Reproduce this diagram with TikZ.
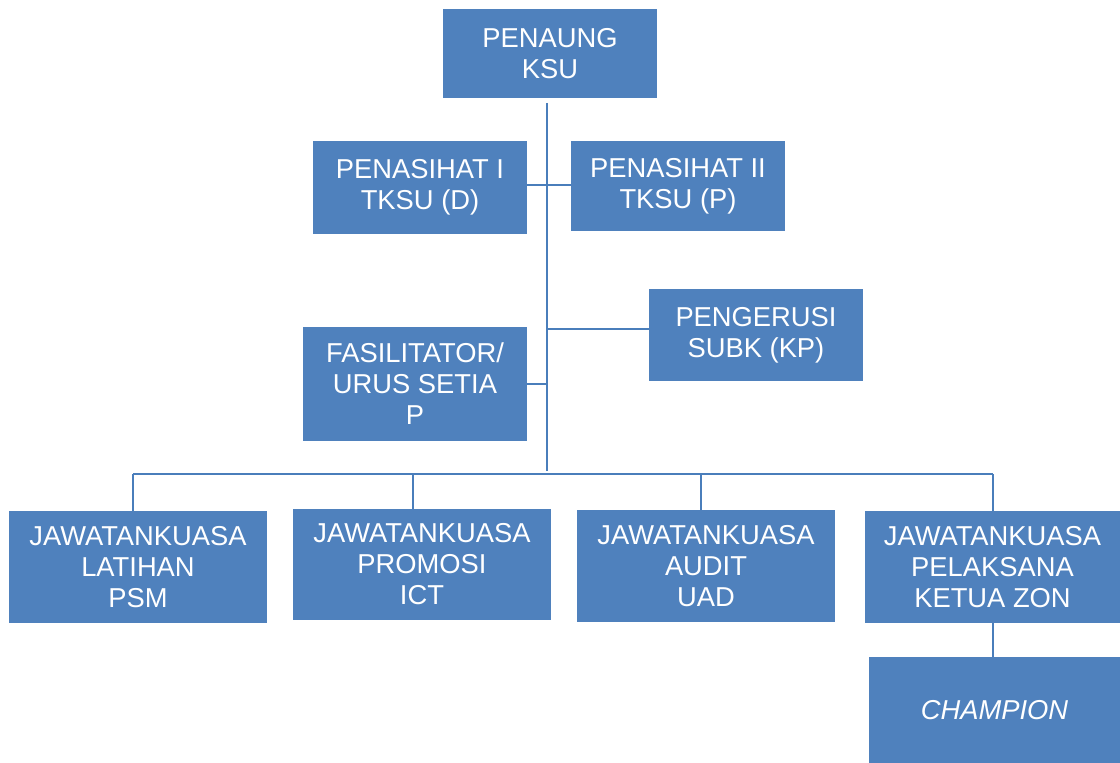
\documentclass[tikz,border=0pt]{standalone}
\usepackage{fontspec}
\setmainfont{Liberation Sans}
\definecolor{boxblue}{HTML}{4F81BD}
\definecolor{lineblue}{HTML}{4A7EBB}
\begin{document}
\begin{tikzpicture}[x=0.75pt,y=-0.75pt,
  orgbox/.style={fill=boxblue,draw=none,text=white,align=center,inner sep=0pt,
    font=\fontsize{20.5}{23.3}\selectfont},
  conn/.style={draw=lineblue,line width=1.7pt}]
\useasboundingbox (0,0) rectangle (1120,763);
\newcommand{\orgnode}[6]{%
  \node[orgbox,minimum width={(#4-#2)*0.75pt},minimum height={(#5-#3)*0.75pt}]
    (#1) at ({(#2+#4)/2},{(#3+#5)/2}) {#6};}
\orgnode{penaung}{443}{9}{657}{98}{PENAUNG\\KSU}
\orgnode{penA}{313}{141}{527}{234}{PENASIHAT I\\TKSU (D)}
\orgnode{penB}{571}{141}{785}{231}{PENASIHAT II\\TKSU (P)}
\orgnode{peng}{649}{289}{863}{381}{PENGERUSI\\SUBK (KP)}
\orgnode{fas}{303}{327}{527}{441}{FASILITATOR/\\URUS SETIA\\P}
\orgnode{lat}{9}{511}{267}{623}{JAWATANKUASA\\LATIHAN\\PSM}
\orgnode{pro}{293}{509}{551}{620}{JAWATANKUASA\\PROMOSI\\ICT}
\orgnode{aud}{577}{510}{835}{622}{JAWATANKUASA\\AUDIT\\UAD}
\orgnode{pel}{865}{511}{1120}{623}{JAWATANKUASA\\PELAKSANA\\KETUA ZON}
\orgnode{cha}{869}{657}{1120}{763}{\itshape CHAMPION}
% coordinates
\coordinate (tTop) at (547,103);
\coordinate (tEnd) at (547,471);
\coordinate (jA) at (547,185);
\coordinate (jP) at (547,329);
\coordinate (jF) at (547,384);
\coordinate (b1) at (133,474);
\coordinate (b2) at (413,474);
\coordinate (b3) at (701,474);
\coordinate (b4) at (993,474);
% connectors
\draw[conn] (tTop) -- (tEnd);
\draw[conn] (jA -| penA.east) -- (jA -| penB.west);
\draw[conn] (jP) -- (jP -| peng.west);
\draw[conn] (jF -| fas.east) -- (jF);
\draw[conn] (b1) -- (b4);
\draw[conn] (b1) -- (b1 |- lat.north);
\draw[conn] (b2) -- (b2 |- pro.north);
\draw[conn] (b3) -- (b3 |- aud.north);
\draw[conn] (b4) -- (b4 |- pel.north);
\draw[conn] (b4 |- pel.south) -- (b4 |- cha.north);
\end{tikzpicture}
\end{document}
